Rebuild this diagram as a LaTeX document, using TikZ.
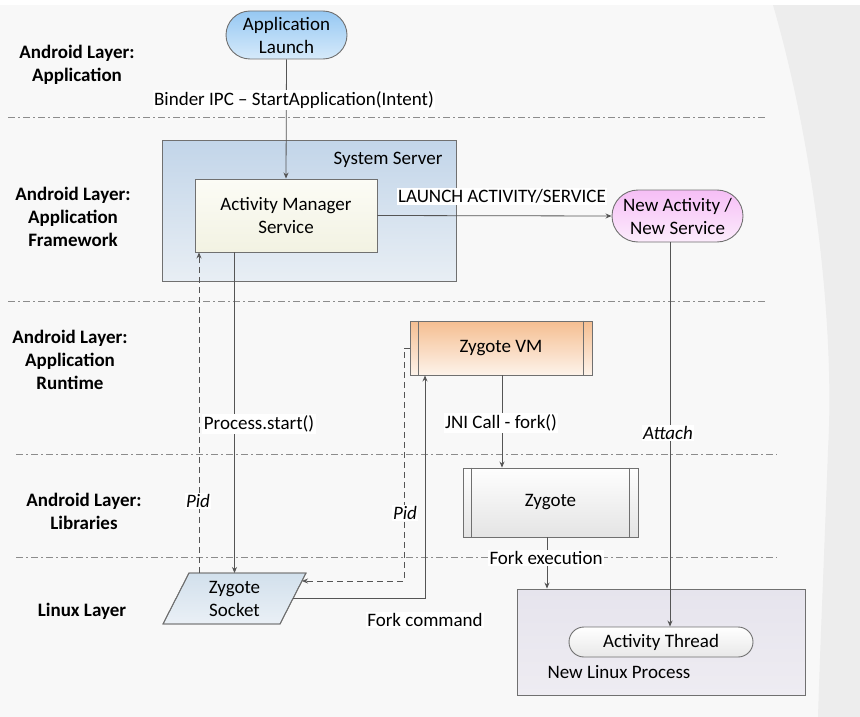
\documentclass[tikz,border=0pt]{standalone}
\usepackage{fontspec}
\setmainfont{Carlito}
\usetikzlibrary{arrows.meta}
\definecolor{bgmain}{HTML}{F8F8F8}
\definecolor{bgright}{HTML}{EDEDED}
\definecolor{bordc}{HTML}{707070}
\definecolor{linec}{HTML}{555555}
\definecolor{sepc}{HTML}{8C8C8C}
\begin{document}
\begin{tikzpicture}[x=1pt,y=-1pt,
  font=\fontsize{19}{23}\selectfont,
  box/.style={draw=bordc, line width=0.9pt, inner sep=2pt, align=center},
  term/.style={box, rounded corners=#1},
  sepline/.style={sepc, line width=0.8pt, dash pattern=on 7pt off 3pt on 1.5pt off 3.5pt},
  arr/.style={linec, line width=0.8pt, -{Stealth[length=6pt,width=5pt]}},
  darr/.style={arr, dash pattern=on 6pt off 4pt},
  lbl/.style={fill=white, inner sep=1.5pt},
  layer/.style={font=\fontsize{19}{23}\selectfont\bfseries, align=center}
]
\useasboundingbox (0,0) rectangle (860,717);
% background
\fill[bgmain] (0,0) rectangle (860,717);
\fill[bgright] (773,5) .. controls (815,150) and (835,330) .. (828,450) .. controls (824,560) and (820,650) .. (818,717) -- (860,717) -- (860,5) -- cycle;
\fill[white] (0,0) rectangle (860,5);

% separators
\draw[sepline] (8,117) -- (768,117);
\draw[sepline] (8,301) -- (768,301);
\draw[sepline] (16,454) -- (777,454);
\draw[sepline] (16,557) -- (777,557);

% layer labels
\node[layer] (l1) at (77,64.5) {Android Layer:\\Application};
\node[layer] (l2) at (73,216.5) {Android Layer:\\Application\\Framework};
\node[layer] (l3) at (70,360) {Android Layer:\\Application\\Runtime};
\node[layer] (l4) at (84,511) {Android Layer:\\Libraries};
\node[layer] (l5) at (82,611) {Linux Layer};

% nodes
\node[term=24pt, minimum width=121pt, minimum height=48pt, top color=blue!5!white!60!cyan!30, bottom color=white,
  shade, top color={rgb,255:red,150;green,200;blue,243}, bottom color={rgb,255:red,214;green,234;blue,250}] (app) at (286.5,35) {Application\\Launch};

\node[box, minimum width=294pt, minimum height=141pt, shade, top color={rgb,255:red,194;green,213;blue,233}, bottom color={rgb,255:red,232;green,238;blue,244}] (sys) at (309,210.5) {};
\node[anchor=center] (systxt) at (388,160) {System Server};

\node[box, minimum width=182pt, minimum height=73pt, shade, top color={rgb,255:red,252;green,252;blue,246}, bottom color={rgb,255:red,242;green,242;blue,226}] (ams) at (286,215.5) {Activity Manager\\Service};

\node[term=26pt, minimum width=131pt, minimum height=52pt, shade, top color={rgb,255:red,246;green,190;blue,246}, bottom color={rgb,255:red,252;green,236;blue,252}] (newact) at (677.5,216) {New Activity /\\New Service};

\node[box, minimum width=182pt, minimum height=54pt, shade, top color={rgb,255:red,245;green,190;blue,145}, bottom color={rgb,255:red,253;green,243;blue,234}] (zvm) at (501,348) {Zygote VM};
\draw[bordc, line width=0.9pt] ([xshift=9pt]zvm.north west) -- ([xshift=9pt]zvm.south west);
\draw[bordc, line width=0.9pt] ([xshift=-9pt]zvm.north east) -- ([xshift=-9pt]zvm.south east);

\node[box, minimum width=175pt, minimum height=69pt, shade, top color={rgb,255:red,254;green,254;blue,254}, bottom color={rgb,255:red,228;green,228;blue,228}] (zyg) at (550.5,502.5) {Zygote};
\draw[bordc, line width=0.9pt] ([xshift=9pt]zyg.north west) -- ([xshift=9pt]zyg.south west);
\draw[bordc, line width=0.9pt] ([xshift=-9pt]zyg.north east) -- ([xshift=-9pt]zyg.south east);

\node[box, minimum width=288pt, minimum height=106pt, shade, top color={rgb,255:red,230;green,228;blue,237}, bottom color={rgb,255:red,238;green,236;blue,242}] (nlp) at (661,642) {};
\node[anchor=west] (nlptxt) at (544,672) {New Linux Process};
\node[term=15pt, minimum width=184pt, minimum height=30pt, inner sep=0pt, shade, top color=white, bottom color={rgb,255:red,232;green,232;blue,232}] (thread) at (661,642) {Activity Thread};

% Zygote socket (parallelogram)
\coordinate (sNW) at (189,573);
\coordinate (sNE) at (306,573);
\coordinate (sSE) at (280,624);
\coordinate (sSW) at (163,624);
\shade[top color={rgb,255:red,210;green,224;blue,236}, bottom color={rgb,255:red,234;green,240;blue,246}, draw=bordc, line width=0.9pt] (sNW) -- (sNE) -- (sSE) -- (sSW) -- cycle;
\draw[bordc, line width=0.9pt] (sNW) -- (sNE) -- (sSE) -- (sSW) -- cycle;
\node[align=center] (sock) at (234.5,598.5) {Zygote\\Socket};

% connector helper coordinates
\coordinate (xps) at (234.5,0);
\coordinate (xpid) at (199,0);
\coordinate (xatt) at (670,0);
\coordinate (xjni) at (502,0);
\coordinate (xfe) at (547,0);
\coordinate (sockPidL) at (199,573);
\coordinate (sockPs) at (234.5,573);
\coordinate (sockPidR) at (302,581);
\coordinate (sockFork) at (293,598);
\coordinate (pidBend) at (404,348);
\coordinate (forkBend) at (425,598);

% connectors
\draw[arr] (app.south) -- (ams.north);
\draw[arr] (ams.east) -- (newact.west);
\draw[arr] (newact.south -| xatt) -- (thread.north -| xatt);
\draw[arr] (ams.south -| xps) -- (sockPs);
\draw[darr] (sockPidL) -- (ams.south -| xpid);
\draw[darr] (zvm.west |- pidBend) -- (pidBend) -- (pidBend |- sockPidR) -- (sockPidR);
\draw[arr] (sockFork) -- (forkBend) -- (forkBend |- zvm.south);
\draw[arr] (zvm.south -| xjni) -- (zyg.north -| xjni);
\draw[arr] (zyg.south -| xfe) -- (nlp.north -| xfe);

% connector labels
\node[lbl] (lbinder) at (294,100) {Binder IPC – StartApplication(Intent)};
\node[lbl] (llaunch) at (502,196) {LAUNCH ACTIVITY/SERVICE};
\node[lbl] (lps) at (259,424) {Process.start()};
\node[lbl] (ljni) at (501,423) {JNI Call - fork()};
\node[lbl, font=\fontsize{19}{23}\selectfont\itshape] (latt) at (668,433) {Attach};
\node[lbl, font=\fontsize{19}{23}\selectfont\itshape] (lpid1) at (198,501) {Pid};
\node[lbl, font=\fontsize{19}{23}\selectfont\itshape] (lpid2) at (405,513) {Pid};
\node[lbl] (lfe) at (546,558) {Fork execution};
\node[lbl] (lfc) at (425,620) {Fork command};
\end{tikzpicture}
\end{document}
